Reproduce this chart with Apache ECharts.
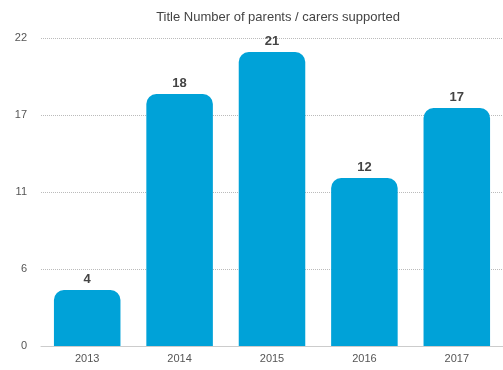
<!DOCTYPE html>
<html>
<head>
<meta charset="utf-8">
<script src="https://cdn.jsdelivr.net/npm/echarts@6/dist/echarts.min.js"></script>
<style>
  html, body { margin: 0; padding: 0; background: #fff; }
  #chart { width: 503px; height: 370px; }
</style>
</head>
<body>
<div id="chart"></div>
<script>
var years = ['2013', '2014', '2015', '2016', '2017'];
var supported = [4, 18, 21, 12, 17];
var chartTitle = 'Title Number of parents / carers supported';

var myChart = echarts.init(document.getElementById('chart'));
var option = {
    animation: false,
    textStyle: { fontFamily: 'Liberation Sans, Arial, sans-serif' },
    title: {
        text: chartTitle,
        left: 273,
        textAlign: 'center',
        top: 6,
        textStyle: { fontSize: 13, fontWeight: 'normal', color: '#444' }
    },
    grid: { left: 41, width: 465, top: 38, height: 308 },
    xAxis: {
        type: 'category',
        data: years,
        axisLine: { lineStyle: { color: '#ccc' } },
        axisTick: { show: false },
        axisLabel: { color: '#555', fontSize: 11, margin: 7 }
    },
    yAxis: {
        type: 'value',
        min: 0,
        max: 22,
        interval: 5.5,
        axisLine: { show: false },
        axisTick: { show: false },
        axisLabel: {
            color: '#555', fontSize: 11, margin: 14,
            formatter: function (v) { return Math.round(v); }
        },
        splitLine: { lineStyle: { color: '#bbb', type: 'dotted' } }
    },
    series: [{
        type: 'bar',
        data: supported,
        barWidth: '72%',
        itemStyle: { color: '#00A2D8', borderRadius: [10, 10, 0, 0] },
        label: {
            show: true, position: 'top', distance: 4,
            color: '#444', fontSize: 13, fontWeight: 'bold'
        }
    }]
};
myChart.setOption(option);
</script>
</body>
</html>
